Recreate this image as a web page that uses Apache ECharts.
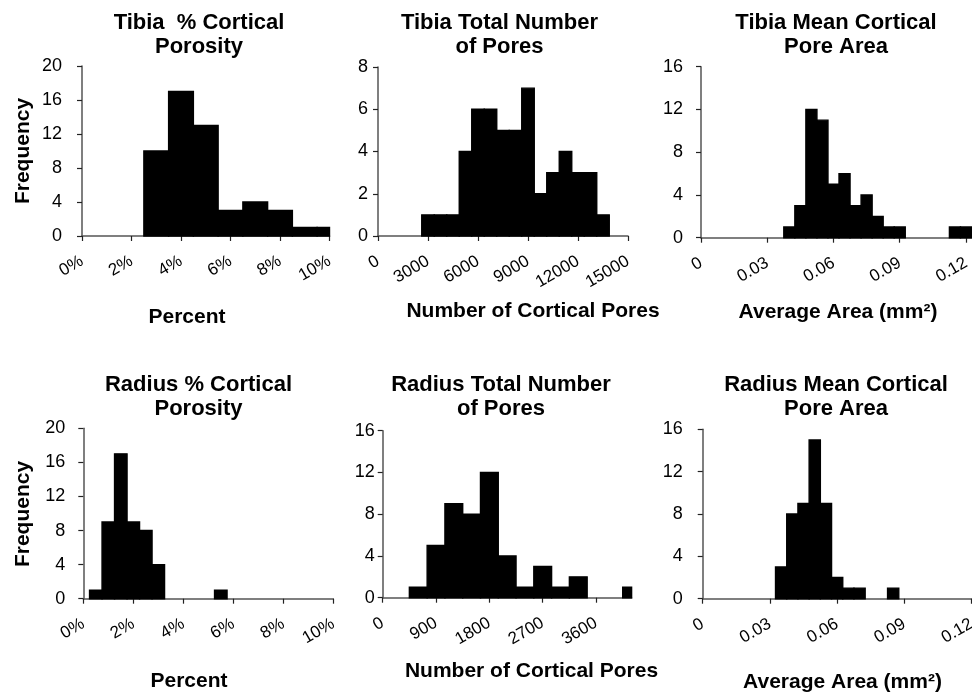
<!DOCTYPE html>
<html><head><meta charset="utf-8">
<script src="https://cdn.jsdelivr.net/npm/echarts@6/dist/echarts.min.js"></script>
<style>html,body{margin:0;padding:0;background:#fff}#c{width:972px;height:696px}</style>
</head><body><div id="c"></div>
<script>
// ---- data (bin centres and frequencies) ----
const tibiaPorosityBins = [3, 4, 5, 6, 7, 8, 9, 10];
const tibiaPorosityCounts = [10, 17, 13, 3, 4, 3, 1, 1];
const tibiaPorosityBinWidth = 1;

const tibiaPoreCountBins = [3000, 3750, 4500, 5250, 6000, 6750, 7500, 8250, 9000, 9750, 10500, 11250, 12000, 12750, 13500];
const tibiaPoreCountCounts = [1, 1, 1, 4, 6, 6, 5, 5, 7, 2, 3, 4, 3, 3, 1];
const tibiaPoreCountBinWidth = 750;

const tibiaPoreAreaBins = [0.04, 0.045, 0.05, 0.055, 0.06, 0.065, 0.07, 0.075, 0.08, 0.085, 0.09, 0.095, 0.1, 0.105, 0.11, 0.115, 0.12];
const tibiaPoreAreaCounts = [1, 3, 12, 11, 5, 6, 3, 4, 2, 1, 1, 0, 0, 0, 0, 1, 1];
const tibiaPoreAreaBinWidth = 0.005;

const radiusPorosityBins = [0.5, 1, 1.5, 2, 2.5, 3, 3.5, 4, 4.5, 5, 5.5];
const radiusPorosityCounts = [1, 9, 17, 9, 8, 4, 0, 0, 0, 0, 1];
const radiusPorosityBinWidth = 0.5;

const radiusPoreCountBins = [600, 900, 1200, 1500, 1800, 2100, 2400, 2700, 3000, 3300, 3600, 3900, 4200];
const radiusPoreCountCounts = [1, 5, 9, 8, 12, 4, 1, 3, 1, 2, 0, 0, 1];
const radiusPoreCountBinWidth = 300;

const radiusPoreAreaBins = [0.035, 0.04, 0.045, 0.05, 0.055, 0.06, 0.065, 0.07, 0.075, 0.08, 0.085];
const radiusPoreAreaCounts = [3, 8, 9, 15, 9, 2, 1, 1, 0, 0, 1];
const radiusPoreAreaBinWidth = 0.005;

// ---- tick labels ----
const percentTicks = [0, 2, 4, 6, 8, 10];
const tibiaPoreCountTicks = [0, 3000, 6000, 9000, 12000, 15000];
const areaTicks = [0, 0.03, 0.06, 0.09, 0.12];
const radiusPoreCountTicks = [0, 900, 1800, 2700, 3600];
const freqTicks20 = [0, 4, 8, 12, 16, 20];
const freqTicks8 = [0, 2, 4, 6, 8];
const freqTicks16 = [0, 4, 8, 12, 16];

// ---- texts ----
const panelTitles = [
  'Tibia  % Cortical\nPorosity', 'Tibia Total Number\nof Pores', 'Tibia Mean Cortical\nPore Area',
  'Radius % Cortical\nPorosity', 'Radius Total Number\nof Pores', 'Radius Mean Cortical\nPore Area'
];
const xNames = ['Percent', 'Number of Cortical Pores', 'Average Area (mm\u00B2)',
                'Percent', 'Number of Cortical Pores', 'Average Area (mm\u00B2)'];
const yName = 'Frequency';

const FONT = '"Liberation Sans", Arial, Helvetica, sans-serif';

const panels = [
  {bins: tibiaPorosityBins, counts: tibiaPorosityCounts, bw: tibiaPorosityBinWidth, xmax: 10, xticks: percentTicks, fmt: v => v + '%',
   ymax: 20, yticks: freqTicks20, grid: {left: 82, top: 66, width: 247.5, height: 170}, ylm: 20,
   title: [199, 10.5], xname: [187, 317], yname: [23, 151]},
  {bins: tibiaPoreCountBins, counts: tibiaPoreCountCounts, bw: tibiaPoreCountBinWidth, xmax: 15000, xticks: tibiaPoreCountTicks, fmt: v => String(v),
   ymax: 8, yticks: freqTicks8, grid: {left: 378, top: 67, width: 250, height: 169}, ylm: 10,
   title: [499.5, 10.5], xname: [533, 311]},
  {bins: tibiaPoreAreaBins, counts: tibiaPoreAreaCounts, bw: tibiaPoreAreaBinWidth, xmax: 0.1225, xticks: areaTicks, fmt: v => v === 0 ? '0' : v.toFixed(2),
   ymax: 16, yticks: freqTicks16, grid: {left: 701, top: 66.7, width: 270.5, height: 171}, ylm: 18,
   title: [836, 10.5], xname: [838, 312]},
  {bins: radiusPorosityBins, counts: radiusPorosityCounts, bw: radiusPorosityBinWidth, xmax: 10, xticks: percentTicks, fmt: v => v + '%',
   ymax: 20, yticks: freqTicks20, grid: {left: 83.3, top: 428.3, width: 250, height: 170.4}, ylm: 18,
   title: [198.5, 372.5], xname: [189, 681], yname: [23, 514]},
  {bins: radiusPoreCountBins, counts: radiusPoreCountCounts, bw: radiusPoreCountBinWidth, xmax: 4200, xticks: radiusPoreCountTicks, fmt: v => String(v),
   ymax: 16, yticks: freqTicks16, grid: {left: 382.7, top: 430.7, width: 248.9, height: 167}, ylm: 8,
   title: [501, 372.5], xname: [531.5, 671]},
  {bins: radiusPoreAreaBins, counts: radiusPoreAreaCounts, bw: radiusPoreAreaBinWidth, xmax: 0.12, xticks: areaTicks, fmt: v => v === 0 ? '0' : v.toFixed(2),
   ymax: 16, yticks: freqTicks16, grid: {left: 702.7, top: 429.3, width: 268.9, height: 169.4}, ylm: 20,
   title: [836, 372.5], xname: [842.5, 682]}
];

function histItem(width) {
  return function (params, api) {
    const c = api.value(0), n = api.value(1);
    if (!n) return;
    const p0 = api.coord([c - width / 2, n]);
    const p1 = api.coord([c + width / 2, 0]);
    const cs = params.coordSys;
    const shape = echarts.graphic.clipRectByRect(
      {x: p0[0], y: p0[1], width: p1[0] - p0[0], height: p1[1] - p0[1]},
      {x: cs.x, y: cs.y, width: cs.width, height: cs.height});
    return shape && {type: 'rect', shape: shape, style: {fill: '#000', stroke: '#000', lineWidth: 1.4}};
  };
}

const grids = [], xAxes = [], yAxes = [], series = [], graphics = [];
panels.forEach((p, i) => {
  grids.push(Object.assign({containLabel: false, outerBoundsMode: 'none'}, p.grid));
  xAxes.push({
    gridIndex: i, type: 'value', min: 0, max: p.xmax,
    axisLine: {show: true, onZero: false, lineStyle: {color: '#555', width: 1.5}},
    axisTick: {show: true, length: 5, customValues: p.xticks, lineStyle: {color: '#222', width: 1.2}},
    axisLabel: {customValues: p.xticks, rotate: 30, margin: 24, fontSize: 17, color: '#000', fontFamily: FONT,
                formatter: p.fmt, hideOverlap: false},
    splitLine: {show: false}
  });
  yAxes.push({
    gridIndex: i, type: 'value', min: 0, max: p.ymax,
    axisLine: {show: true, lineStyle: {color: '#555', width: 1.5}},
    axisTick: {show: true, length: 5, customValues: p.yticks, lineStyle: {color: '#222', width: 1.2}},
    axisLabel: {customValues: p.yticks, margin: p.ylm, fontSize: 18, color: '#000', fontFamily: FONT},
    splitLine: {show: false}
  });
  series.push({
    type: 'custom', xAxisIndex: i, yAxisIndex: i, renderItem: histItem(p.bw),
    encode: {x: 0, y: 1}, silent: true, z: 1,
    data: p.bins.map((b, k) => [b, p.counts[k]])
  });
  graphics.push({type: 'text', x: p.title[0], y: p.title[1], silent: true,
    style: {text: panelTitles[i], textAlign: 'center', textVerticalAlign: 'top', lineHeight: 24,
            font: 'bold 22px ' + FONT, fill: '#000'}});
  graphics.push({type: 'text', x: p.xname[0], y: p.xname[1], silent: true,
    style: {text: xNames[i], textAlign: 'center', textVerticalAlign: 'middle',
            font: 'bold 21px ' + FONT, fill: '#000'}});
  if (p.yname) {
    graphics.push({type: 'text', x: p.yname[0], y: p.yname[1], rotation: Math.PI / 2, silent: true,
      style: {text: yName, textAlign: 'center', textVerticalAlign: 'middle',
              font: 'bold 21px ' + FONT, fill: '#000'}});
  }
});

const chart = echarts.init(document.getElementById('c'), null, {renderer: 'canvas'});
chart.setOption({
  animation: false,
  backgroundColor: '#fff',
  textStyle: {fontFamily: FONT},
  grid: grids, xAxis: xAxes, yAxis: yAxes, series: series, graphic: graphics
});
</script>
</body></html>
